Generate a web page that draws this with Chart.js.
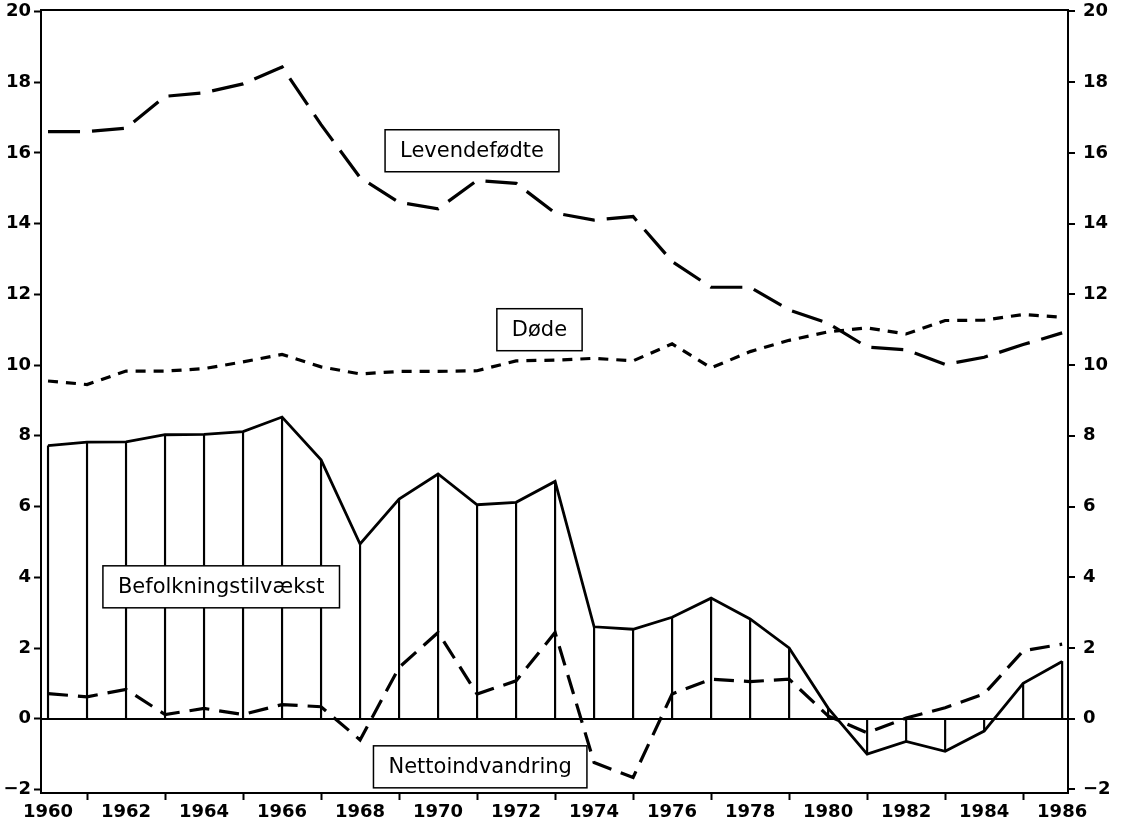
<!DOCTYPE html>
<html>
<head>
<meta charset="utf-8">
<script src="https://cdn.jsdelivr.net/npm/chart.js@4/dist/chart.umd.min.js"></script>
<style>
  html, body { margin: 0; padding: 0; background: #fff; }
  #wrap { width: 1121px; height: 827px; }
</style>
</head>
<body>
<div id="wrap"><canvas id="chart" width="1121" height="827"></canvas></div>
<script>
// years on the x axis
const years = [1960,1961,1962,1963,1964,1965,1966,1967,1968,1969,1970,1971,1972,1973,
  1974,1975,1976,1977,1978,1979,1980,1981,1982,1983,1984,1985,1986];

// per 1000 inhabitants
const levendefodte = [16.6,16.6,16.7,17.6,17.7,17.95,18.43,16.8,15.3,14.6,14.42,15.22,15.14,14.3,
  14.1,14.2,12.93,12.2,12.2,11.56,11.18,10.51,10.43,10.02,10.22,10.58,10.91];
const doede = [9.55,9.45,9.83,9.83,9.9,10.09,10.3,9.95,9.75,9.82,9.82,9.84,10.12,10.14,
  10.19,10.12,10.6,9.92,10.38,10.7,10.94,11.05,10.88,11.26,11.27,11.43,11.35];
const befolkning = [7.72,7.82,7.83,8.03,8.04,8.12,8.53,7.32,4.94,6.21,6.92,6.05,6.12,6.71,
  2.6,2.53,2.87,3.41,2.82,2.0,0.3,-1.0,-0.64,-0.92,-0.35,1.0,1.62];
const netto = [0.71,0.62,0.83,0.12,0.29,0.12,0.4,0.34,-0.6,1.45,2.44,0.7,1.07,2.44,
  -1.24,-1.66,0.7,1.12,1.05,1.12,0.08,-0.4,0.02,0.31,0.7,1.92,2.11];

// boxed series labels, anchored in data space
const labelTexts = ["Levendefødte", "Døde", "Befolkningstilvækst", "Nettoindvandring"];
const labelX = [1970.87, 1972.6, 1964.44, 1971.08];
const labelY = [16.06, 11.0, 3.73, -1.36];

const pts = arr => arr.map((v, i) => ({ x: years[i], y: v }));
const tickFont = { family: "DejaVu Sans", size: 18, weight: "bold" };
const fmt = v => String(v).replace("-", "\u2212");

const labelBoxes = {
  id: "labelBoxes",
  afterDatasetsDraw(chart) {
    const ctx = chart.ctx;
    const xs = chart.scales.x, ys = chart.scales.y;
    ctx.save();
    ctx.font = "21px 'DejaVu Sans'";
    ctx.textAlign = "center";
    ctx.textBaseline = "middle";
    labelTexts.forEach((t, i) => {
      const cx = xs.getPixelForValue(labelX[i]);
      const cy = ys.getPixelForValue(labelY[i]);
      const w = ctx.measureText(t).width + 30;
      const h = 42;
      ctx.fillStyle = "#fff";
      ctx.fillRect(cx - w / 2, cy - h / 2, w, h);
      ctx.strokeStyle = "#000";
      ctx.lineWidth = 1.5;
      ctx.strokeRect(cx - w / 2, cy - h / 2, w, h);
      ctx.fillStyle = "#000";
      ctx.fillText(t, cx, cy + 1);
    });
    ctx.restore();
  }
};

const frame = {
  id: "frame",
  afterDraw(chart) {
    const a = chart.chartArea, ctx = chart.ctx;
    ctx.save();
    ctx.strokeStyle = "#000";
    ctx.lineWidth = 2;
    ctx.strokeRect(a.left, a.top, a.right - a.left, a.bottom - a.top);
    ctx.restore();
  }
};

new Chart(document.getElementById("chart"), {
  type: "line",
  data: {
    datasets: [
      { type: "bar", data: pts(befolkning), backgroundColor: "#000", barThickness: 1.5,
        yAxisID: "y", order: 5 },
      { data: pts(befolkning), borderColor: "#000", borderWidth: 2.8, pointRadius: 0,
        tension: 0, yAxisID: "y", order: 1 },
      { data: pts(levendefodte), borderColor: "#000", borderWidth: 3.2, borderDash: [32, 12],
        pointRadius: 0, tension: 0, yAxisID: "y", order: 2 },
      { data: pts(doede), borderColor: "#000", borderWidth: 3.2, borderDash: [10, 8],
        pointRadius: 0, tension: 0, yAxisID: "y", order: 3 },
      { data: pts(netto), borderColor: "#000", borderWidth: 3.2, borderDash: [20, 10],
        pointRadius: 0, tension: 0, yAxisID: "y", order: 4 }
    ]
  },
  options: {
    responsive: false,
    animation: false,
    events: [],
    layout: { padding: { top: 10, left: 0, right: 0, bottom: 0 } },
    plugins: { legend: { display: false }, tooltip: { enabled: false } },
    scales: {
      x: {
        type: "linear", min: 1959.82, max: 1986.15, offset: false,
        ticks: { stepSize: 2, includeBounds: false, color: "#000", font: tickFont,
                 padding: 2, maxRotation: 0, autoSkip: false, callback: v => String(v) },
        grid: { drawOnChartArea: false, drawTicks: true, tickLength: 7, tickColor: "#000", tickWidth: 2 },
        border: { display: true, color: "#000", width: 2 },
        afterFit(s) { s.height = 34; s.paddingLeft = 0; s.paddingRight = 0; }
      },
      y: {
        position: "left", min: -2.1, max: 20.04,
        ticks: { stepSize: 2, includeBounds: false, color: "#000", font: tickFont, padding: 3,
                 callback: fmt },
        grid: { drawOnChartArea: false, drawTicks: true, tickLength: 7, tickColor: "#000", tickWidth: 2 },
        border: { display: true, color: "#000", width: 2 },
        afterFit(s) { s.width = 41; s.paddingTop = 0; s.paddingBottom = 0; }
      },
      y2: {
        position: "right", min: -2.1, max: 20.04,
        ticks: { stepSize: 2, includeBounds: false, color: "#000", font: tickFont, padding: 8,
                 callback: fmt },
        grid: { drawOnChartArea: true, drawTicks: true, tickLength: 7, tickColor: "#000", tickWidth: 2,
                color: c => (c.tick && c.tick.value === 0 ? "#000" : "rgba(0,0,0,0)"), lineWidth: 2 },
        border: { display: true, color: "#000", width: 2 },
        afterFit(s) { s.width = 53; s.paddingTop = 0; s.paddingBottom = 0; }
      }
    }
  },
  plugins: [labelBoxes, frame]
});
</script>
</body>
</html>
